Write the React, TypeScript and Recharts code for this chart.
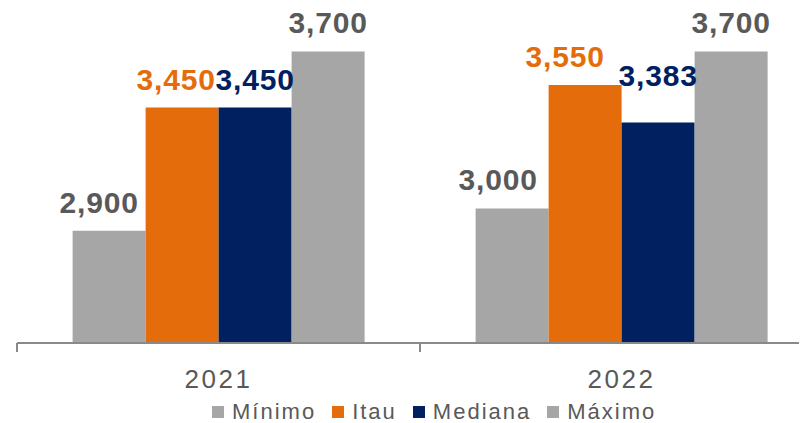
import * as React from "react";
import { BarChart, Bar, XAxis, YAxis, Legend, LabelList } from "recharts";

const years = ["2021", "2022"];
const minimo = [2900, 3000];
const itau = [3450, 3550];
const mediana = [3450, 3383];
const maximo = [3700, 3700];

const font = "'Liberation Sans', Arial, sans-serif";
const gray = "#A6A6A6";
const orange = "#E46C0A";
const navy = "#002060";
const textGray = "#595959";

const series = [
    { key: "minimo", name: "Mínimo", color: gray, label: textGray },
    { key: "itau", name: "Itau", color: orange, label: orange },
    { key: "mediana", name: "Mediana", color: navy, label: navy },
    { key: "maximo", name: "Máximo", color: gray, label: textGray },
];

// small manual label nudges, as in the source slide
const nudge: Record<string, { dx: number; dy: number }[]> = {
    minimo: [{ dx: -10, dy: 0 }, { dx: -14, dy: 0 }],
    itau: [{ dx: -6, dy: 0 }, { dx: -20, dy: 0 }],
    mediana: [{ dx: 0, dy: 0 }, { dx: 0, dy: -19 }],
    maximo: [{ dx: 0, dy: 0 }, { dx: 0, dy: 0 }],
};

const data = years.map((year, i) => ({
    year,
    minimo: minimo[i],
    itau: itau[i],
    mediana: mediana[i],
    maximo: maximo[i],
}));

const fmt = (n: number) => n.toLocaleString("en-US");

const makeLabel = (key: string, color: string) => (props: any) => {
    const { x, y, width, value, index } = props;
    const n = nudge[key][index] ?? { dx: 0, dy: 0 };
    return (
        <text
            x={Number(x) + Number(width) / 2 + n.dx}
            y={Number(y) - 18 + n.dy}
            textAnchor="middle"
            fill={color}
            fontFamily={font}
            fontWeight="bold"
            fontSize={30}
            letterSpacing={0.8}
        >
            {fmt(Number(value))}
        </text>
    );
};

const YearTick = (props: any) => {
    const { x, y, payload, index, visibleTicksCount } = props;
    const half = payload?.offset ?? 0;
    const last = index === visibleTicksCount - 1;
    return (
        <g>
            <line x1={x - half} x2={x - half} y1={y} y2={y + 9} stroke="#898989" strokeWidth={2} />
            {last && <line x1={x + half} x2={x + half} y1={y} y2={y + 9} stroke="#898989" strokeWidth={2} />}
            <text x={x} y={y + 45} textAnchor="middle" fill={textGray} fontFamily={font} fontSize={26} letterSpacing={2.5}>
                {payload.value}
            </text>
        </g>
    );
};

const LegendRow = () => (
    <div style={{ display: "flex", alignItems: "center", fontFamily: font, fontSize: 22, lineHeight: "22px", color: textGray, letterSpacing: 2, whiteSpace: "nowrap" }}>
        {series.map((s) => (
            <div key={s.key} style={{ display: "flex", alignItems: "center", marginRight: 16 }}>
                <span style={{ width: 12, height: 12, background: s.color, marginRight: 8, display: "inline-block" }} />
                <span>{s.name}</span>
            </div>
        ))}
    </div>
);

export default function App() {
    return (
        <div style={{ marginTop: -8, marginLeft: -8, width: 807, height: 423, overflow: "hidden", position: "relative", background: "#fff" }}>
            <BarChart
                width={823}
                height={423}
                data={data}
                margin={{ top: 29, right: 0, left: 17, bottom: 50 }}
                barCategoryGap="13.8%"
                barGap={0}
            >
                <XAxis
                    dataKey="year"
                    axisLine={{ stroke: "#898989", strokeWidth: 2 }}
                    tickLine={false}
                    tickSize={0}
                    tickMargin={0}
                    tick={<YearTick />}
                    interval={0}
                />
                <YAxis hide domain={[2400, 3800]} allowDataOverflow />
                <Legend
                    verticalAlign="middle"
                    align="center"
                    layout="horizontal"
                    content={<LegendRow />}
                    wrapperStyle={{ top: 401, left: 212, width: 600, height: 22 }}
                />
                {series.map((s) => (
                    <Bar key={s.key} dataKey={s.key} name={s.name} fill={s.color} isAnimationActive={false}>
                        <LabelList dataKey={s.key} content={makeLabel(s.key, s.label)} />
                    </Bar>
                ))}
            </BarChart>
        </div>
    );
}
